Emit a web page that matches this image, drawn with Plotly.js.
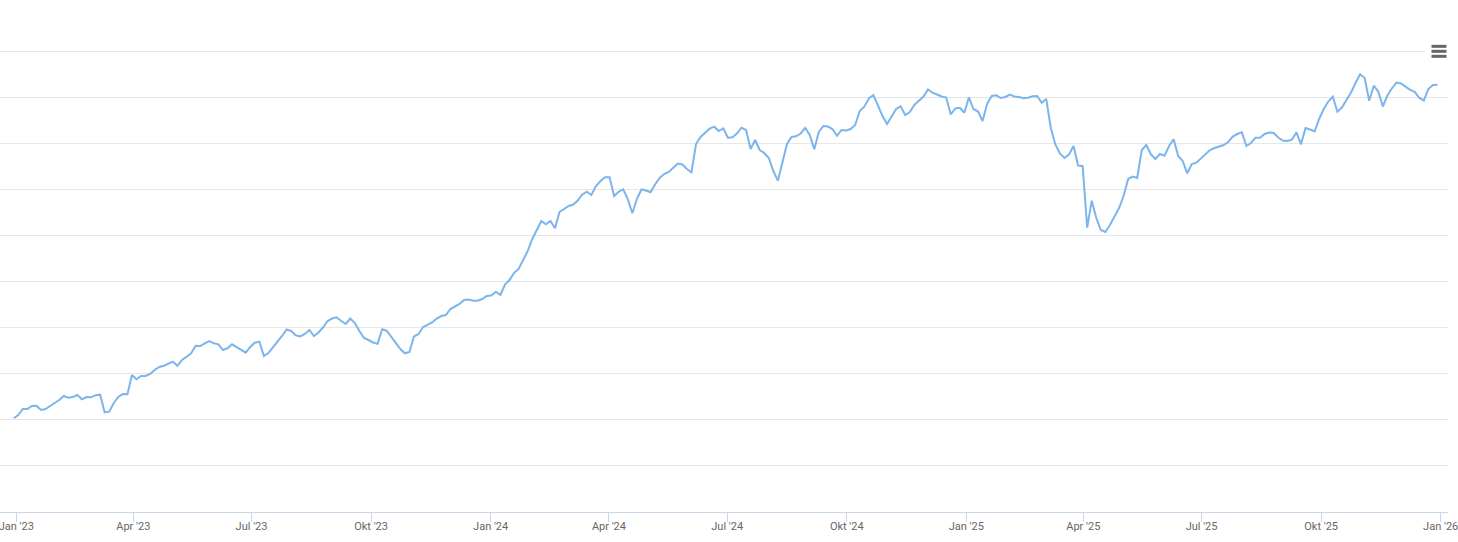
<!DOCTYPE html>
<html>
<head>
<meta charset="utf-8">
<script src="https://cdn.plot.ly/plotly-3.0.1.min.js"></script>
<style>
  html, body { margin: 0; padding: 0; background: #ffffff; }
  #chart { width: 1458px; height: 542px; }
</style>
</head>
<body>
<div id="chart"></div>
<script>
// Series start and spacing (twice-weekly observations)
const seriesStart = '2022-12-30';
const stepHours = 84;

// Series values (relative index level)
const values = [
  93.7, 97, 103, 103, 106, 106.3, 102, 103, 106, 108.7,
  112, 116, 114.3, 115, 117, 112.7, 115, 114.7, 116.7, 117.3,
  99.7, 100.3, 109, 115, 118, 117.7, 137, 132.7, 136, 136,
  138, 142, 145, 146.3, 148, 150.3, 146.3, 152, 155.3, 158.7,
  166.3, 166, 168.7, 171, 168.7, 167.7, 162, 163.7, 167.7, 165,
  162.5, 159.3, 165, 169.3, 170.3, 156, 159, 164.5, 170, 176,
  182.5, 181, 176.7, 175.5, 178, 182, 176, 179.5, 184.5, 191,
  193.5, 194.7, 191, 188, 193.5, 189, 181, 174, 172, 169.5,
  168.2, 182.7, 181.3, 175, 169, 163, 158.7, 160, 175.5, 178,
  185, 187, 189.5, 193.5, 196, 197, 203, 205.5, 208, 212,
  212.5, 211.3, 211.3, 213, 216, 216.5, 220.3, 217, 227.5, 232,
  239, 243, 252, 261, 273, 282, 291, 287.7, 291, 283.7,
  300, 303, 306, 307.5, 311.5, 317.5, 320.3, 317, 326, 331,
  334.7, 334.7, 316, 320.3, 322.7, 313, 298.7, 313, 322.5, 321.5,
  319.7, 327.5, 334, 338, 340, 344.3, 348.5, 347.5, 343, 339.7,
  368, 375, 378.7, 383.3, 385.3, 381, 383.7, 374.3, 374.7, 378.5,
  384.3, 382, 363, 372, 362, 359, 354, 341, 331.3, 349,
  368, 375, 375.7, 378.5, 384, 377, 362.7, 380, 386, 385.5,
  383, 376.3, 382, 381.5, 383, 387, 401, 405.3, 413.5, 417,
  405.5, 396, 388, 396, 403, 405.7, 397, 400, 407, 411.3,
  415.5, 422.5, 419.3, 417.5, 415.5, 414.5, 397.7, 403.5, 404.2, 399.3,
  414.7, 403, 400.5, 391, 408, 416, 416.7, 414, 415, 417.5,
  415.5, 415, 413.8, 414.3, 415.8, 416, 409.3, 413, 384, 367.5,
  358.5, 354, 357.5, 366, 346.5, 346, 284.3, 311.3, 294, 282,
  280, 287, 295.5, 304, 316, 333, 335.5, 334, 362, 367,
  357.7, 353, 358, 356.3, 366, 372.7, 356, 351, 338.7, 348,
  349.3, 353.5, 358.5, 362, 364, 365.5, 367, 370, 375.5, 378,
  379.7, 366, 369, 374.3, 374.3, 378, 379.5, 379, 374.5, 371.5,
  371, 372.3, 379.7, 367.7, 384, 382.5, 380.5, 393, 403, 410.5,
  415.3, 400.3, 404.5, 412, 419.5, 429, 437.7, 434, 411.3, 426.3,
  420.3, 405.5, 416.5, 423.7, 429.5, 428.5, 425, 422.2, 420.2, 414,
  411.5, 423, 427, 427.3
];

// X-axis tick positions and labels
const tickDates = [
  '2023-01-01', '2023-04-01', '2023-07-01', '2023-10-01',
  '2024-01-01', '2024-04-01', '2024-07-01', '2024-10-01',
  '2025-01-01', '2025-04-01', '2025-07-01', '2025-10-01',
  '2026-01-01'
];
const tickLabels = [
  "Jan '23", "Apr '23", "Jul '23", "Okt '23",
  "Jan '24", "Apr '24", "Jul '24", "Okt '24",
  "Jan '25", "Apr '25", "Jul '25", "Okt '25",
  "Jan '26"
];

// Build date sequence for the observations
const startMs = Date.parse(seriesStart + 'T00:00:00Z');
const dates = values.map(function (_, i) {
  const d = new Date(startMs + i * stepHours * 3600 * 1000);
  return d.toISOString().slice(0, 19).replace('T', ' ');
});

const trace = {
  type: 'scatter',
  mode: 'lines',
  x: dates,
  y: values,
  line: { color: '#7cb5ec', width: 2, shape: 'linear' },
  hoverinfo: 'x+y'
};

const layout = {
  width: 1458,
  height: 542,
  margin: { l: 0, r: 10, t: 49, b: 30, pad: 0 },
  paper_bgcolor: '#ffffff',
  plot_bgcolor: '#ffffff',
  showlegend: false,
  font: { family: 'Roboto, "Open Sans", sans-serif', size: 11, color: '#666666' },
  xaxis: {
    type: 'date',
    range: ['2022-12-19 11:00', '2026-01-06 15:00'],
    tickmode: 'array',
    tickvals: tickDates,
    ticktext: tickLabels,
    ticks: 'outside',
    ticklen: 9,
    tickwidth: 1,
    tickcolor: '#ccd6eb',
    ticklabeloverflow: 'allow',
    ticklabelstandoff: -5,
    showline: true,
    linecolor: '#ccd6eb',
    linewidth: 1,
    showgrid: false,
    zeroline: false,
    tickfont: { family: 'Roboto, "Open Sans", sans-serif', size: 11, color: '#666666' },
    fixedrange: true
  },
  yaxis: {
    range: [0, 463],
    tick0: 0,
    dtick: 46.1,
    showticklabels: false,
    ticks: '',
    showgrid: true,
    gridcolor: '#e6e6e6',
    gridwidth: 1,
    zeroline: false,
    showline: false,
    fixedrange: true
  },
  shapes: [
    { type: 'rect', xref: 'paper', yref: 'paper', x0: 0.9841, x1: 1.0028, y0: 0.970, y1: 1.024,
      fillcolor: '#ffffff', line: { width: 0 }, layer: 'above' },
    { type: 'line', xref: 'paper', yref: 'paper', x0: 0.98860, x1: 0.99896, y0: 1.0058, y1: 1.0058,
      line: { color: '#666666', width: 3 }, layer: 'above' },
    { type: 'line', xref: 'paper', yref: 'paper', x0: 0.98860, x1: 0.99896, y0: 0.9950, y1: 0.9950,
      line: { color: '#666666', width: 3 }, layer: 'above' },
    { type: 'line', xref: 'paper', yref: 'paper', x0: 0.98860, x1: 0.99896, y0: 0.9842, y1: 0.9842,
      line: { color: '#666666', width: 3 }, layer: 'above' }
  ]
};

Plotly.newPlot('chart', [trace], layout, { displayModeBar: false, staticPlot: false });
</script>
</body>
</html>
